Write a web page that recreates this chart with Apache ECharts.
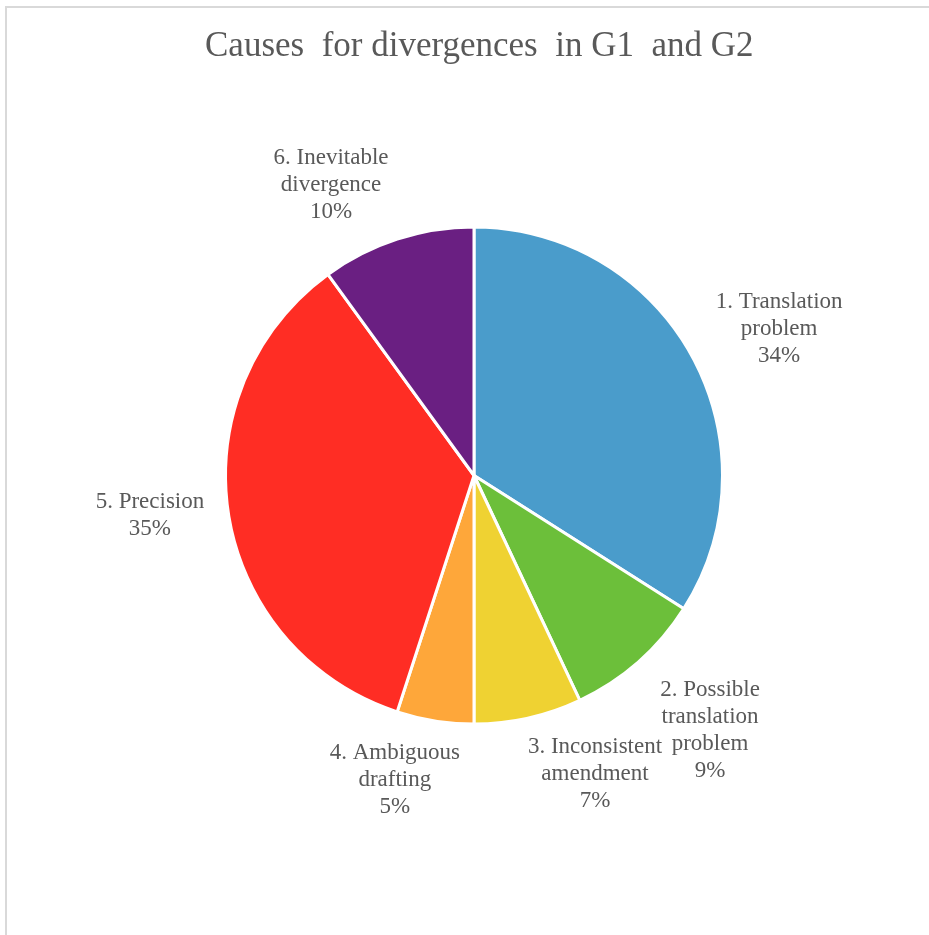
<!DOCTYPE html>
<html>
<head>
<meta charset="utf-8">
<title>Causes for divergences in G1 and G2</title>
<script src="https://cdn.jsdelivr.net/npm/echarts@6/dist/echarts.min.js"></script>
<style>
  html, body { margin: 0; padding: 0; background: #ffffff; }
  #chart { width: 929px; height: 935px; }
</style>
</head>
<body>
<div id="chart"></div>
<script>
// Slice names (with the line breaks used in the labels), shares in percent, colours
const categories = [
  '1. Translation\nproblem',
  '2. Possible\ntranslation\nproblem',
  '3. Inconsistent\namendment',
  '4. Ambiguous\ndrafting',
  '5. Precision',
  '6. Inevitable\ndivergence'
];
const shares = [34, 9, 7, 5, 35, 10];
const sliceColors = ['#4A9CCB', '#6CBF3A', '#EFD232', '#FEA73A', '#FF2D24', '#6A1F82'];

// Label placement: angular shift (degrees) from each slice's middle, and distance beyond the rim (px)
const labelAngleShift = [3.1, -1.4, -9.5, 5.6, 2.0, -8.2];
const labelGap = [91.6, 100.4, 74.6, 67.1, 79.5, 76.8];

const CENTER = [474, 475.5];
const RADIUS = 247;
const BORDER = 3;

const total = shares.reduce((a, b) => a + b, 0);
const midAngles = [];
let acc = 0;
shares.forEach(v => {
  midAngles.push((acc + v / 2) / total * 360);
  acc += v;
});

const serif = 'Liberation Serif, Times New Roman, serif';
const textGrey = '#595959';

const chart = echarts.init(document.getElementById('chart'), null, { renderer: 'canvas' });

const option = {
  animation: false,
  backgroundColor: '#ffffff',
  title: {
    text: 'Causes  for divergences  in G1  and G2',
    left: 205,
    top: 29,
    padding: 0,
    textStyle: {
      fontFamily: serif,
      fontSize: 35,
      fontWeight: 'normal',
      color: textGrey
    }
  },
  graphic: [{
    type: 'rect',
    silent: true,
    z: -1,
    shape: { x: 6, y: 7, width: 1200, height: 1200 },
    style: { fill: 'none', stroke: '#d9d9d9', lineWidth: 2 }
  }],
  series: [{
    type: 'pie',
    center: CENTER,
    radius: RADIUS + BORDER / 2,
    startAngle: 90,
    clockwise: true,
    avoidLabelOverlap: false,
    emphasis: { disabled: true },
    itemStyle: { borderColor: '#ffffff', borderWidth: BORDER },
    data: categories.map((name, i) => ({
      name: name,
      value: shares[i],
      itemStyle: { color: sliceColors[i] }
    })),
    label: {
      show: true,
      position: 'outside',
      formatter: '{b}\n{d}%',
      fontFamily: serif,
      fontSize: 23,
      lineHeight: 27,
      color: textGrey
    },
    labelLine: { show: false },
    labelLayout: function (p) {
      const i = p.dataIndex;
      const a = (midAngles[i] + labelAngleShift[i]) * Math.PI / 180;
      const d = RADIUS + labelGap[i];
      return {
        x: CENTER[0] + d * Math.sin(a),
        y: CENTER[1] - d * Math.cos(a),
        align: 'center',
        verticalAlign: 'middle'
      };
    }
  }]
};

chart.setOption(option);
</script>
</body>
</html>
